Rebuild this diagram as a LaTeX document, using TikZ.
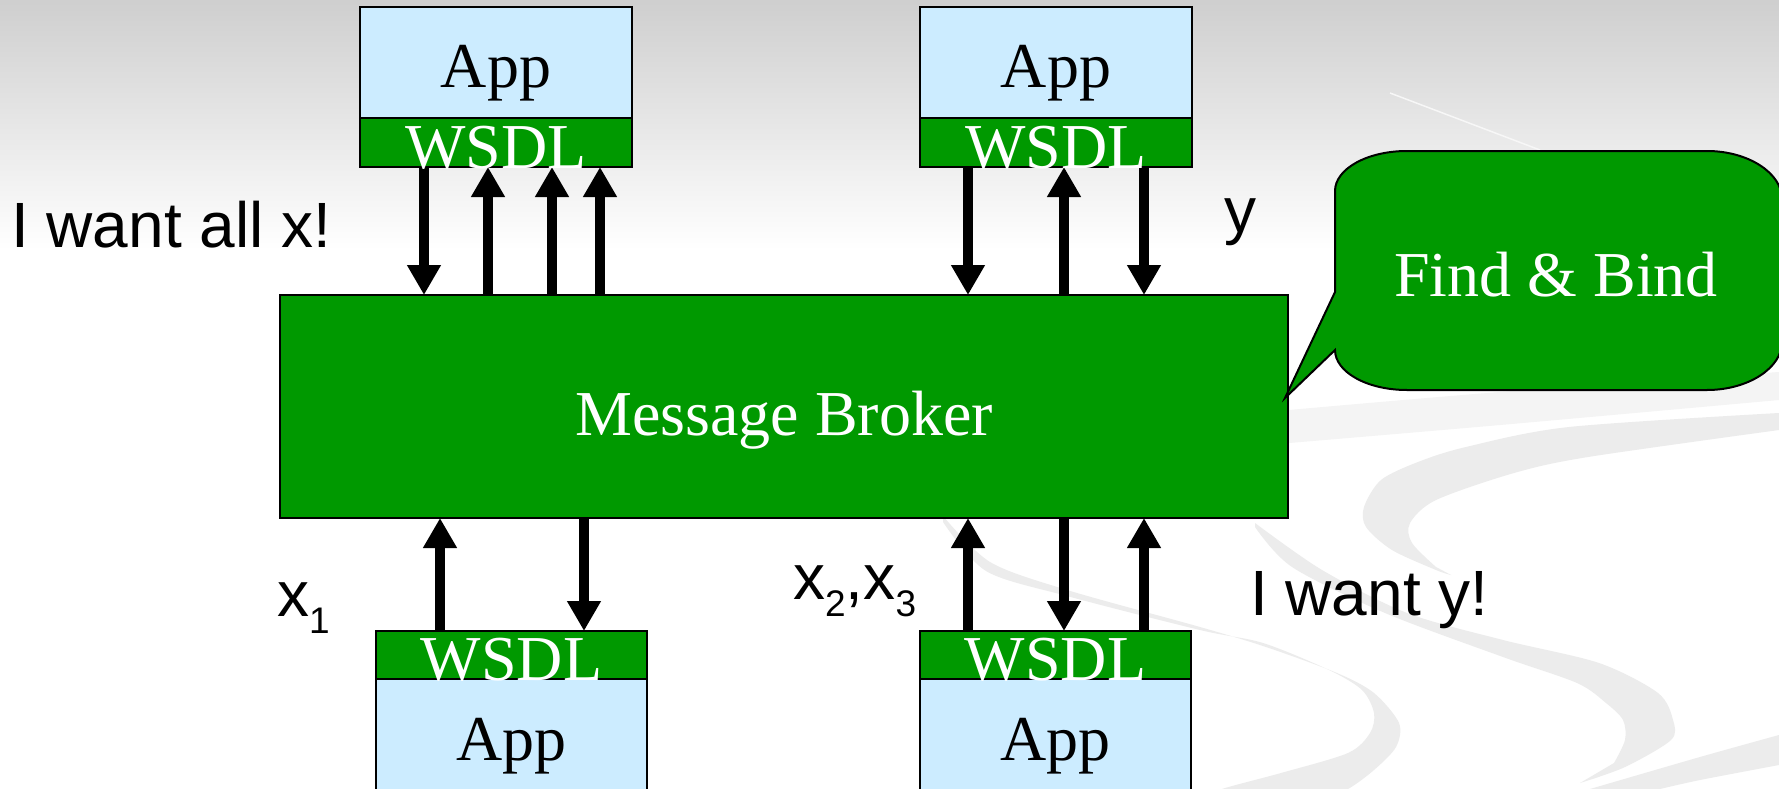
\documentclass[tikz,border=0pt]{standalone}
\usepackage{fontspec}
\setmainfont{Liberation Serif}
\newfontfamily\labelsans{Liberation Sans}
\usetikzlibrary{arrows.meta}
\definecolor{brokergreen}{RGB}{0,153,0}
\definecolor{applight}{RGB}{204,236,255}
\definecolor{swirl}{RGB}{236,236,236}
\definecolor{swirllight}{RGB}{244,244,244}
\newcommand{\lowsub}[1]{\raisebox{-17pt}{\fontsize{37}{40}\selectfont #1}}

\begin{document}
\begin{tikzpicture}[x=1pt,y=-1pt,
  box/.style={draw=black, line width=2pt, outer sep=0pt, inner sep=0pt, rectangle},
  appbox/.style={box, fill=applight, minimum width=272pt},
  wsdlbox/.style={box, fill=brokergreen, minimum width=272pt, minimum height=49pt},
  serif/.style={font=\fontsize{64}{72}\selectfont, inner sep=0pt, anchor=base},
  sans/.style={font=\labelsans\fontsize{64}{72}\selectfont, inner sep=0pt, anchor=base west},
  flow/.style={line width=10pt, -{Triangle[width=32pt,length=30pt]}},
]
\useasboundingbox (0,0) rectangle (1779,789);
\clip (0,0) rectangle (1779,789);

% backdrop
\fill[white] (0,0) rectangle (1779,789);
\shade[top color=black!19, bottom color=white] (0,0) rectangle (1779,250);

% decorative ribbons
\fill[swirllight] plot[smooth] coordinates {(1289,410) (1500,392) (1779,372)}
  -- plot[smooth] coordinates {(1779,400) (1500,425) (1289,443)} -- cycle;
\fill[swirl] plot[smooth] coordinates {(1779,413) (1569,427) (1466,447) (1418,462) (1381,480) (1364,507) (1366,527) (1392,550) (1436,570) (1451,575)}
  -- plot[smooth] coordinates {(1436,567) (1412,543) (1410,523) (1436,500) (1514,473) (1588,457) (1779,430)} -- cycle;
\fill[swirl] plot[smooth] coordinates {(943,516) (990,562) (1067,590) (1200,627) (1266,647) (1337,673) (1374,693) (1399,723) (1396,747) (1374,770) (1348,789) (1320,800)}
  -- plot[smooth] coordinates {(1200,800) (1222,789) (1281,773) (1348,753) (1370,733) (1374,713) (1362,690) (1329,670) (1263,643) (1200,630) (1067,596) (986,571) (943,522)} -- cycle;
\fill[swirl] plot[smooth] coordinates {(1255,523) (1322,570) (1407,613) (1503,640) (1599,663) (1658,693) (1673,720) (1671,740) (1625,767) (1580,783)}
  -- plot[smooth] coordinates {(1614,763) (1625,740) (1623,720) (1606,703) (1577,683) (1503,657) (1385,613) (1292,567) (1255,527)} -- cycle;
\fill[swirl] plot[smooth] coordinates {(1590,789) (1700,757) (1779,735)}
  -- plot[smooth] coordinates {(1779,765) (1700,780) (1660,789)} -- cycle;
\draw[white!60!black!8, line width=1.5pt] (1390,93) -- (1540,150);

% columns where the flows run
\coordinate (colA) at (424,0);
\coordinate (colB) at (488,0);
\coordinate (colC) at (552,0);
\coordinate (colD) at (600,0);
\coordinate (colE) at (968,0);
\coordinate (colF) at (1064,0);
\coordinate (colG) at (1144,0);
\coordinate (colH) at (440,0);
\coordinate (colI) at (584,0);

% broker
\node[box, fill=brokergreen, minimum width=1008pt, minimum height=223pt] (broker) at (784,406.5) {};

% applications with their WSDL interfaces
\node[appbox, minimum height=111pt] (appTL) at (496,62.5) {};
\node[wsdlbox] (wsdlTL) at (496,142.5) {};
\node[appbox, minimum height=111pt] (appTR) at (1056,62.5) {};
\node[wsdlbox] (wsdlTR) at (1056,142.5) {};
\node[wsdlbox, minimum width=271pt, minimum height=48pt] (wsdlBL) at (511.5,655) {};
\node[appbox, minimum width=271pt, minimum height=121pt] (appBL) at (511.5,739.5) {};
\node[wsdlbox, minimum width=271pt, minimum height=48pt] (wsdlBR) at (1055.5,655) {};
\node[appbox, minimum width=271pt, minimum height=121pt] (appBR) at (1055.5,739.5) {};

% message flows
\draw[flow] (wsdlTL.south -| colA) -- (broker.north -| colA);
\draw[flow] (broker.north -| colB) -- (wsdlTL.south -| colB);
\draw[flow] (broker.north -| colC) -- (wsdlTL.south -| colC);
\draw[flow] (broker.north -| colD) -- (wsdlTL.south -| colD);
\draw[flow] (wsdlTR.south -| colE) -- (broker.north -| colE);
\draw[flow] (broker.north -| colF) -- (wsdlTR.south -| colF);
\draw[flow] (wsdlTR.south -| colG) -- (broker.north -| colG);
\draw[flow] (wsdlBL.north -| colH) -- (broker.south -| colH);
\draw[flow] (broker.south -| colI) -- (wsdlBL.north -| colI);
\draw[flow] (wsdlBR.north -| colE) -- (broker.south -| colE);
\draw[flow] (broker.south -| colF) -- (wsdlBR.north -| colF);
\draw[flow] (wsdlBR.north -| colG) -- (broker.south -| colG);

% speech bubble
\filldraw[fill=brokergreen, draw=black, line width=2pt]
  (1335,292) -- (1285,398) -- (1335,350)
  .. controls (1335,372) and (1367,390) .. (1407,390)
  -- (1707,390)
  .. controls (1748,390) and (1782,368) .. (1782,342)
  -- (1782,199)
  .. controls (1782,173) and (1748,151) .. (1707,151)
  -- (1407,151)
  .. controls (1367,151) and (1335,169) .. (1335,191)
  -- cycle;

% texts
\node[serif] (tAppTL) at (496,88) {App};
\node[serif, text=white] (tWsdlTL) at (496,168) {WSDL};
\node[serif] (tAppTR) at (1056,88) {App};
\node[serif, text=white] (tWsdlTR) at (1056,168) {WSDL};
\node[serif, text=white] (tWsdlBL) at (511.5,680) {WSDL};
\node[serif] (tAppBL) at (511.5,760) {App};
\node[serif, text=white] (tWsdlBR) at (1055.5,680) {WSDL};
\node[serif] (tAppBR) at (1055.5,760) {App};
\node[serif, text=white] (tBroker) at (784,435) {Message Broker};
\node[serif, text=white] (tFind) at (1556,296) {Find \& Bind};

\node[sans] (wantX) at (11,247) {I want all x!};
\node[sans] (lblY) at (1224,232) {y};
\node[sans] (wantY) at (1250,615) {I want y!};
\node[sans] (lblX1) at (277,616) {x\lowsub{1}};
\node[sans] (lblX23) at (793,599) {x\lowsub{2},x\lowsub{3}};
\end{tikzpicture}
\end{document}
